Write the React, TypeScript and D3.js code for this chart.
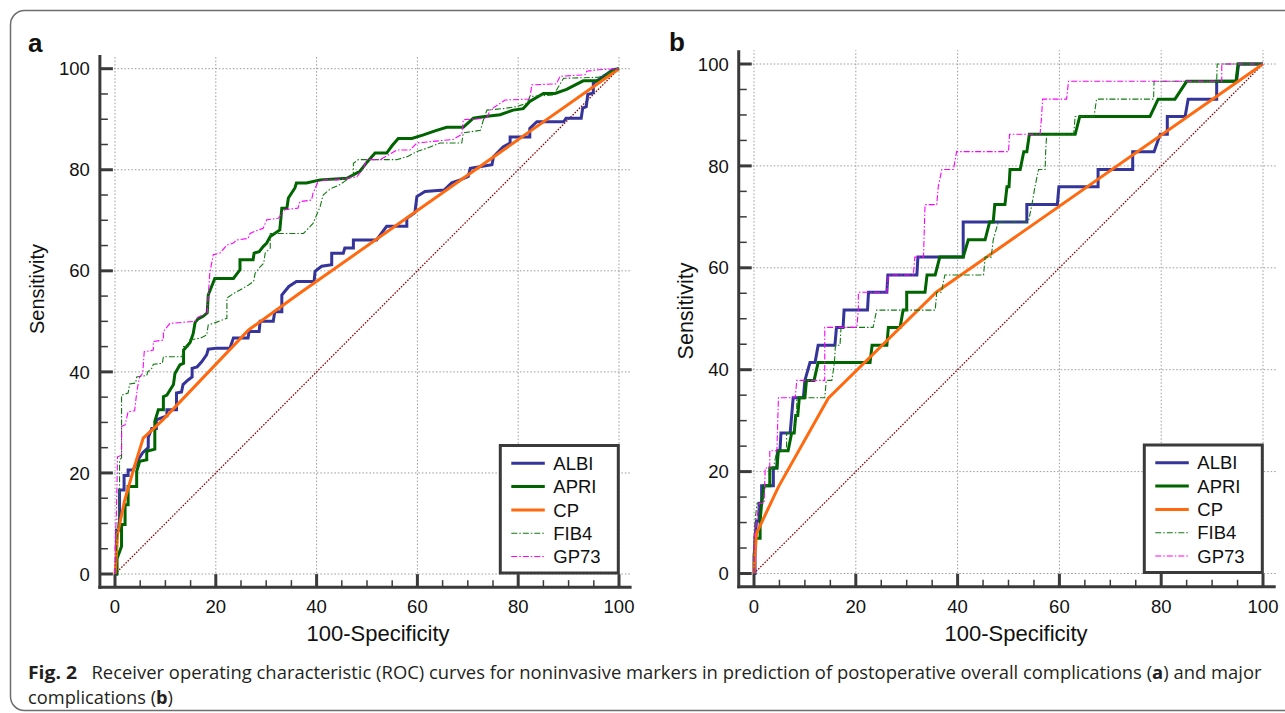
import React from "react";
import * as d3 from "d3";

type Pt = [number, number];

const markers = ["ALBI", "APRI", "CP", "FIB4", "GP73"];
const majorTicks = [0, 20, 40, 60, 80, 100];
const minorTicks = [5, 10, 15, 25, 30, 35, 45, 50, 55, 65, 70, 75, 85, 90, 95];
const refLine: Pt[] = [[0, 0], [100, 100]];

// panel a: overall complications  [100-specificity, sensitivity]
const albiA: Pt[] = [[0,0],[0.3,0],[0.3,8.7],[0.9,8.7],[0.9,16.6],[1.8,16.6],[1.8,19.5],[2.6,19.5],[2.6,20.6],[3.6,20.6],[4.5,22.5],[5.5,24],[6.6,25],[6.6,27],[7.3,28.8],[8.2,28.8],[8.2,30.5],[9.5,31],[10.3,31.3],[10.3,32.5],[12.2,32.5],[12.2,35.8],[13.2,36],[13.5,37.5],[14.5,38.4],[15.3,39],[15.3,40.7],[16.3,41],[17.2,42],[18.2,43.4],[18.5,44.5],[20.2,44.7],[22.8,44.7],[23.5,46.7],[26.4,46.7],[26.6,48],[28.6,48],[28.8,50],[31.4,50],[31.7,51.9],[33.1,51.9],[33.1,55.2],[34.5,56.9],[36,57.9],[39.5,57.9],[39.7,59.9],[41,60.9],[43,61.2],[43,63.5],[45.3,63.5],[45.6,64.5],[47.3,64.5],[47.3,66.1],[51.9,66.1],[53.9,68.8],[57.9,68.8],[57.9,70.4],[59.5,71.5],[59.9,74.7],[61.5,75.7],[65.3,76],[66.8,77.4],[68.5,78],[70.1,78.7],[70.5,80.3],[74.8,81],[75.1,82.6],[77,84.5],[78.4,85.3],[78.4,86.5],[82.3,86.5],[82.3,88.2],[83.7,89.5],[89,89.5],[89.5,90.2],[92.5,90.2],[92.8,92.2],[93.5,92.5],[93.8,94.9],[94.9,95.2],[94.9,97.1],[96.5,98.2],[98.8,99.8],[100,100]];
const apriA: Pt[] = [[0,0],[0.4,0],[0.4,3],[1.3,5.5],[1.3,9.8],[2,9.8],[2,13.7],[2.6,13.7],[2.6,17.3],[4.3,17.3],[4.3,20.3],[4.9,22.3],[6.3,22.6],[6.3,24.3],[7.9,24.7],[7.9,30.2],[8.6,32.5],[9.6,32.5],[9.6,35.1],[10.3,35.4],[11.6,37.5],[11.9,39.7],[12.9,41.4],[13.6,41.7],[13.6,44.3],[14.9,45.8],[15.5,47.5],[15.9,49.8],[16.5,50.5],[17.5,51],[18.3,51.7],[18.5,55.2],[19.8,58.5],[23.5,58.5],[24.8,60.2],[24.8,62.2],[27.4,62.2],[27.6,63.5],[28.6,63.8],[29.4,64.8],[30.1,65.5],[30.8,66.8],[32.7,68.1],[33.1,72.4],[34.1,72.4],[34.4,74.4],[35.7,76.4],[36,77.4],[38,77.4],[40.7,78],[46,78.3],[48.6,79.7],[50,81.5],[51.6,83.3],[53.9,83.3],[55,84.8],[56.2,86.2],[58.9,86.2],[61.2,86.9],[63.5,87.7],[65.8,88.4],[69.1,88.4],[71.1,90.2],[73,90.5],[76.4,90.9],[79,91.8],[81,92.1],[82.3,93.5],[85,95.1],[87.3,95.1],[89.6,95.9],[92.9,97.6],[95.9,97.6],[96.9,98.1],[98.5,99.5],[100,100]];
const cpA: Pt[] = [[0,0],[0.3,4],[0.5,7.9],[1.9,14.5],[3.8,21.1],[5.6,26.9],[9.5,30.5],[26.5,48.3],[36.7,55.6],[100,100]];
const fib4A: Pt[] = [[0,0],[0.3,5],[0.6,10],[0.9,16],[0.9,22.6],[1.3,23],[1.3,35.4],[2.6,35.8],[2.9,37.6],[4.1,37.8],[4.3,39],[6.3,39.3],[6.5,40],[7.3,40.7],[7.6,41.5],[9.4,41.7],[9.6,43],[13.3,43],[13.6,45],[14.5,45],[14.8,46.3],[17,46.7],[18.2,47.3],[18.5,49.3],[19.8,49.7],[22.2,50.6],[22.2,54.6],[23.5,55.5],[24.8,56.2],[26.5,57.2],[27.5,57.9],[27.8,59.5],[28.8,60.8],[29.5,61.5],[29.8,63.5],[30.8,64.5],[30.8,67.4],[37.4,67.4],[39.3,69.4],[40.7,72.7],[41.3,75],[42.7,76.2],[44.5,77],[46,78],[47.3,79],[47.3,81.3],[48.3,82],[55.9,82],[58,82.6],[59.9,83.6],[62,84.3],[64.5,85.3],[68.8,85.3],[69.1,87.3],[72.5,87.8],[73.1,89.9],[73.8,91.8],[77,92.1],[79.7,92.5],[81.8,93.2],[82.3,94.5],[87,94.8],[87.6,95.8],[89,98.1],[96,98.3],[97.5,99],[100,100]];
const gp73A: Pt[] = [[0,0],[0,5.2],[0.3,12.5],[0.5,23.2],[1.3,23.5],[1.3,29.2],[2,29.5],[2.6,32.1],[3.9,32.3],[4.2,35],[4.5,37.1],[4.9,39],[5.5,39.7],[5.8,44],[7.6,44.3],[7.6,46],[9.6,46.3],[9.6,48],[10.9,49.6],[15.9,50],[16.4,50.8],[17.5,51.3],[18.3,51.7],[18.5,55],[18.8,59.5],[19.5,63.2],[20.8,63.5],[22.2,65.1],[23.5,65.5],[24.1,66.1],[26.4,66.4],[26.8,67.4],[28.2,68],[29.4,68.4],[30.1,70.1],[32.4,70.4],[33.7,72.1],[36.3,72.4],[36.7,73.7],[39,74],[39.3,75.4],[40.3,77.7],[42,78],[44,78],[48,78.6],[49.3,80.3],[49.9,82],[52.6,82],[55.9,83.9],[58.5,83.9],[59.9,85.3],[67.1,86],[68.8,87],[69.1,89.9],[73.8,90.2],[74.4,91.8],[77.4,93.8],[82.3,94],[82.7,96.8],[87.6,97],[88.3,98.5],[93.3,98.8],[93.6,99.5],[96,99.8],[100,100]];

// panel b: major complications
const albiB: Pt[] = [[0,0],[0.2,0],[0.2,6.9],[0.5,10.3],[1,10.3],[1,13.8],[1.5,13.8],[1.5,17.2],[3.8,17.2],[3.8,20.7],[4.5,20.7],[4.6,24.1],[5.1,24.1],[5.3,27.6],[7.1,27.6],[7.4,31],[7.7,34.5],[9.7,34.5],[10,37.9],[11,41.4],[12,41.4],[12.6,44.8],[15.9,44.8],[16.2,48.3],[17.5,48.3],[17.7,51.7],[22.3,51.7],[22.5,55.2],[26.1,55.2],[26.3,58.6],[32,58.6],[32.2,62.1],[41.1,62.1],[41.1,69],[53.6,69],[53.6,72.4],[59.6,72.4],[59.9,75.9],[67.6,75.9],[67.6,79.3],[74.4,79.3],[74.4,82.8],[78.6,82.8],[79.8,86.2],[81.2,86.2],[81.2,89.7],[84.7,89.7],[85.3,93.1],[90.9,93.1],[90.9,96.6],[94.8,96.6],[95.2,100],[100,100]];
const apriB: Pt[] = [[0,0],[0,3.4],[0.3,6.9],[1.2,6.9],[1.2,10.3],[1.5,13.8],[2,17.2],[3.1,17.2],[3.1,20.7],[4.5,20.7],[4.8,24.1],[6.7,24.1],[7.4,27.6],[7.9,27.6],[8.2,31],[8.6,31],[8.9,34.5],[10,34.5],[10.3,37.9],[11.8,37.9],[12.6,41.4],[22.8,41.4],[23.2,44.8],[26.1,44.8],[26.4,48.3],[28.7,48.3],[29.3,51.7],[30,51.7],[30,55.2],[33.6,55.2],[34,58.6],[35.6,58.6],[36.5,62.1],[41.1,62.1],[42.1,65.5],[45.4,65.5],[46.3,69],[47,69],[47.3,72.4],[49.3,72.4],[49.7,75.9],[50.1,75.9],[50.3,79.3],[52.3,79.3],[53,82.8],[53.6,82.8],[54.1,86.2],[63.1,86.2],[64,89.7],[77.8,89.7],[79.4,93.1],[82.7,93.1],[85,96.6],[94.7,96.6],[95.1,100],[100,100]];
const cpB: Pt[] = [[0,0],[0.2,4],[0.5,7.9],[4.8,17],[14.6,34.4],[35.8,55.2],[100,100]];
const fib4B: Pt[] = [[0,0],[0,6.9],[0.2,10.3],[0.6,13.8],[1.7,13.8],[2,17.2],[3,17.2],[3.3,20.7],[3.8,20.7],[4.5,24.1],[6.4,24.1],[6.4,27.6],[7.8,27.6],[8.4,31],[8.4,34.5],[13.9,34.5],[14.2,37.9],[15.3,37.9],[15.8,41.4],[16,44.8],[16.9,44.8],[17.1,48.3],[23.4,48.3],[24.1,51.7],[35.6,51.7],[35.9,55.2],[36.8,55.2],[37.5,58.6],[45.1,58.6],[45.4,62.1],[46.6,62.1],[47,65.5],[48,69],[53.9,69],[54.6,72.4],[55.2,75.9],[55.9,79.3],[57.2,79.3],[57.3,82.8],[57.5,86.2],[62.8,86.2],[63.1,89.7],[66.8,89.7],[67.3,93.1],[78.5,93.1],[78.6,96.6],[90.9,96.6],[91,100],[100,100]];
const gp73B: Pt[] = [[0,0],[0,6.9],[0.5,10.3],[1,13.8],[2,13.8],[2.2,20.7],[3.1,20.7],[3.1,24.1],[4.5,24.1],[4.6,27.6],[4.8,34.5],[8.1,34.5],[8.4,37.9],[13.9,37.9],[13.9,48.3],[20.2,48.3],[20.5,51.7],[20.5,55.2],[26.1,55.2],[26.4,58.6],[31.3,58.6],[31.6,62.1],[33.3,62.1],[33.6,72.4],[35.9,72.4],[36.2,75.9],[36.9,79.3],[39.2,79.3],[39.8,82.8],[50,82.8],[50.2,86.2],[56.2,86.2],[56.5,89.7],[56.7,93.1],[61.4,93.1],[61.8,96.6],[91.9,96.6],[91.9,100],[100,100]];

const lineStyle: Record<string, { color: string; width: number; dash?: string }> = {
  ALBI: { color: "#34349a", width: 3 },
  APRI: { color: "#006400", width: 3 },
  CP: { color: "#ff6a10", width: 3 },
  FIB4: { color: "#107a10", width: 1.1, dash: "6,2,1.5,2" },
  GP73: { color: "#ff00ff", width: 1.1, dash: "6,2,1.5,2" },
};

const AXIS = "#3a3a3a";
const FONT = "'Liberation Sans', Arial, sans-serif";

interface PanelCfg {
  tag: string; tagX: number; tagY: number;
  xr: [number, number]; yr: [number, number];
  yTitleX: number; yTitleY: number; yTitleSize: number;
  xTitleX: number;
}

const cfgA: PanelCfg = { tag: "a", tagX: 28, tagY: 51.5, xr: [115, 619], yr: [574, 68.7], yTitleX: 43.5, yTitleY: 289, yTitleSize: 20, xTitleX: 378 };
const cfgB: PanelCfg = { tag: "b", tagX: 669, tagY: 50.7, xr: [754, 1263], yr: [573.5, 64], yTitleX: 693, yTitleY: 311, yTitleSize: 21.5, xTitleX: 1016 };

function Panel({ cfg, data }: { cfg: PanelCfg; data: Pt[][] }) {
  const x = d3.scaleLinear().domain([0, 100]).range(cfg.xr);
  const y = d3.scaleLinear().domain([0, 100]).range(cfg.yr);
  const left = x(-3), right = x(102.5), bottom = y(-2.6), top = y(102.7);
  const line = d3.line<Pt>().x(d => x(d[0])).y(d => y(d[1]));
  const lgW = 118, lgH = 127.5;
  const lgX = x(100) - 0.7 - lgW, lgY = y(0) - 1 - lgH;

  return (
    <g fontFamily={FONT}>
      {majorTicks.map(t => (
        <line key={"gx" + t} x1={x(t)} x2={x(t)} y1={bottom} y2={top} stroke="#9a9a9a" strokeWidth={1} strokeDasharray="1.5,2" />
      ))}
      {majorTicks.map(t => (
        <line key={"gy" + t} x1={left} x2={right} y1={y(t)} y2={y(t)} stroke="#9a9a9a" strokeWidth={1} strokeDasharray="1.5,2" />
      ))}
      <path d={line(refLine) || ""} fill="none" stroke="#8b0000" strokeWidth={1.3} strokeDasharray="1.5,1.5" />
      {data.map((s, i) => {
        const st = lineStyle[markers[i]];
        return (
          <path key={markers[i]} d={line(s) || ""} fill="none" stroke={st.color} strokeWidth={st.width}
            strokeDasharray={st.dash} strokeLinejoin="miter" />
        );
      })}

      {/* axes */}
      <line x1={left} x2={left} y1={top} y2={bottom + 1.5} stroke={AXIS} strokeWidth={3} />
      <line x1={left - 1.5} x2={right} y1={bottom} y2={bottom} stroke={AXIS} strokeWidth={3} />
      {majorTicks.map(t => (
        <g key={"t" + t}>
          <line x1={left} x2={left + 13} y1={y(t)} y2={y(t)} stroke={AXIS} strokeWidth={3} />
          <line x1={x(t)} x2={x(t)} y1={bottom} y2={bottom - 13} stroke={AXIS} strokeWidth={3} />
          <text x={left - 10} y={y(t)} dy="0.36em" textAnchor="end" fontSize={18.5} fill="#111">{t}</text>
          <text x={x(t)} y={613} textAnchor="middle" fontSize={18.5} fill="#111">{t}</text>
        </g>
      ))}
      {minorTicks.map(t => (
        <g key={"m" + t}>
          <line x1={left} x2={left + 8} y1={y(t)} y2={y(t)} stroke={AXIS} strokeWidth={1.5} />
          <line x1={x(t)} x2={x(t)} y1={bottom} y2={bottom - 7} stroke={AXIS} strokeWidth={1.5} />
        </g>
      ))}

      <text x={cfg.xTitleX} y={641} textAnchor="middle" fontSize={22} fill="#111">100-Specificity</text>
      <text transform={`translate(${cfg.yTitleX},${cfg.yTitleY}) rotate(-90)`} textAnchor="middle" fontSize={cfg.yTitleSize} fill="#111">Sensitivity</text>
      <text x={cfg.tagX} y={cfg.tagY} fontSize={26} fontWeight="bold" fill="#111">{cfg.tag}</text>

      {/* legend */}
      <rect x={lgX} y={lgY} width={lgW} height={lgH} fill="#fff" stroke={AXIS} strokeWidth={3} />
      {markers.map((m, i) => {
        const st = lineStyle[m];
        const ry = lgY + 17.8 + i * 23.3;
        return (
          <g key={"lg" + m}>
            <line x1={lgX + 11} x2={lgX + 44.5} y1={ry} y2={ry} stroke={st.color} strokeWidth={st.width} strokeDasharray={st.dash} />
            <text x={lgX + 53} y={ry} dy="0.36em" fontSize={18.5} fill="#111">{m}</text>
          </g>
        );
      })}
    </g>
  );
}

export default function App() {
  const capFont = "'Open Sans', 'Noto Sans', sans-serif";
  return (
    <svg width={1285} height={713} style={{ position: "absolute", left: 0, top: 0, background: "#fff" }}>
      <rect x={10.5} y={10.5} width={1300} height={700} rx={14} fill="#fff" stroke="#6e6e6e" strokeWidth={1.5} />
      <Panel cfg={cfgA} data={[albiA, apriA, cpA, fib4A, gp73A]} />
      <Panel cfg={cfgB} data={[albiB, apriB, cpB, fib4B, gp73B]} />
      <g fontFamily={capFont} fontSize={17.5} fill="#231f20">
        <text x={28} y={679} fontWeight="bold" textLength={49} lengthAdjust="spacingAndGlyphs">Fig. 2</text>
        <text x={91.5} y={679} textLength={1170} lengthAdjust="spacingAndGlyphs">
          Receiver operating characteristic (ROC) curves for noninvasive markers in prediction of postoperative overall complications (<tspan fontWeight="bold">a</tspan>) and major
        </text>
        <text x={28} y={704} textLength={145} lengthAdjust="spacingAndGlyphs">
          complications (<tspan fontWeight="bold">b</tspan>)
        </text>
      </g>
    </svg>
  );
}
